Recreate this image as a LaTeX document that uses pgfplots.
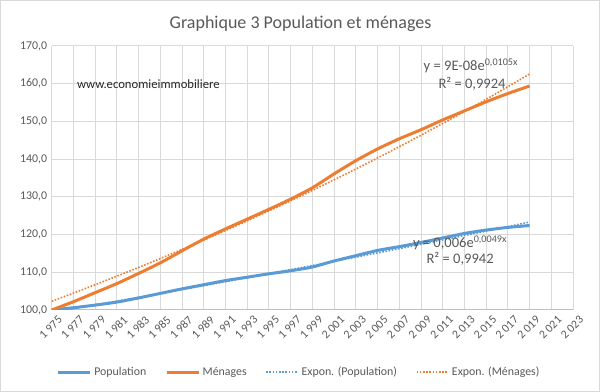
\documentclass[border=0pt]{standalone}
\usepackage{fontspec}
\setmainfont{Carlito}
\usepackage{pgfplots}
\pgfplotsset{compat=1.18}
\definecolor{pop}{HTML}{5B9BD5}
\definecolor{men}{HTML}{ED7D31}
\definecolor{txt}{HTML}{595959}
\definecolor{grd}{HTML}{D9D9D9}
\definecolor{axl}{HTML}{BFBFBF}
\begin{document}
\begin{tikzpicture}
\draw[grd, line width=0.75pt] (0.375pt,0.375pt) rectangle (449.625pt,293.625pt);
\node[txt, font=\fontsize{13.5}{16}\selectfont] at (225.4pt,276pt) {Graphique 3 Population et ménages};
\begin{axis}[
  at={(38.8pt,61.5pt)}, anchor=south west,
  scale only axis, width=391pt, height=198pt,
  xmin=1975, xmax=2023, ymin=100, ymax=170,
  xtick={1975,1977,...,2023},
  xticklabels={1 975,1 977,1 979,1 981,1 983,1 985,1 987,1 989,1 991,1 993,1 995,1 997,1 999,2 001,2 003,2 005,2 007,2 009,2 011,2 013,2 015,2 017,2 019,2 021,2 023},
  ytick={100,110,...,170},
  grid=major, grid style={grd, line width=0.75pt},
  axis line style={draw=none},
  major tick length=0pt,
  /pgf/number format/assume math mode=true,
  tick label style={txt, font=\fontsize{8.9}{10}\selectfont},
  yticklabel style={/pgf/number format/.cd, fixed, fixed zerofill, precision=1, use comma},
  xticklabel style={rotate=45, anchor=north east, inner sep=0.5pt, yshift=-5pt, xshift=1pt},
  extra y ticks={100}, extra y tick labels={},
  extra y tick style={grid style={axl, line width=0.75pt}},
  legend style={at={(0.475,-0.235)}, anchor=center, draw=none, fill=none,
    legend columns=4, font=\fontsize{8.9}{10}\selectfont, text=txt,
    /tikz/every even column/.append style={column sep=12pt}},
  legend image code/.code={\draw[#1] (0pt,0pt) -- (24pt,0pt);},
]
\addplot[pop, line width=2.25pt, smooth, tension=0.4] coordinates {
(1975,100.0)(1977,100.6)(1979,101.3)(1981,102.1)(1983,103.2)(1985,104.4)
(1987,105.6)(1989,106.7)(1991,107.8)(1993,108.7)(1995,109.6)(1997,110.4)
(1999,111.4)(2001,113.0)(2003,114.4)(2005,115.8)(2007,116.8)(2009,117.9)
(2011,119.1)(2013,120.3)(2015,121.2)(2017,121.9)(2019,122.4)};
\addlegendentry{Population}
\addplot[men, line width=2.25pt, smooth, tension=0.4] coordinates {
(1975,100.0)(1977,102.2)(1979,104.6)(1981,107.0)(1983,109.7)(1985,112.5)
(1987,115.7)(1989,118.8)(1991,121.5)(1993,124.1)(1995,126.7)(1997,129.4)
(1999,132.4)(2001,136.1)(2003,139.6)(2005,142.7)(2007,145.4)(2009,147.8)
(2011,150.4)(2013,152.8)(2015,155.2)(2017,157.4)(2019,159.4)};
\addlegendentry{Ménages}
\addplot[pop, line width=1.2pt, dash pattern=on 1.2pt off 1.2pt, smooth] coordinates {
(1975,99.40)(1979,101.37)(1983,103.37)(1987,105.42)(1991,107.51)(1995,109.63)
(1999,111.80)(2003,114.02)(2007,116.27)(2011,118.58)(2015,120.92)(2019,123.32)};
\addlegendentry{Expon. (Population)}
\addplot[men, line width=1.2pt, dash pattern=on 1.2pt off 1.2pt, smooth] coordinates {
(1975,102.30)(1979,106.70)(1983,111.29)(1987,116.08)(1991,121.07)(1995,126.28)
(1999,131.71)(2003,137.38)(2007,143.29)(2011,149.45)(2015,155.88)(2019,162.59)};
\addlegendentry{Expon. (Ménages)}
\node[anchor=west, text=black!85, font=\fontsize{9.5}{11}\selectfont] at (axis cs:1976.9,159.9) {www.economieimmobiliere};
\node[txt, font=\fontsize{10.9}{12}\selectfont] at (axis cs:2013.6,164.7) {y = 9E-08e\textsuperscript{0,0105x}};
\node[txt, font=\fontsize{10.9}{12}\selectfont] at (axis cs:2013.7,159.9) {R² = 0,9924};
\node[txt, font=\fontsize{10.9}{12}\selectfont] at (axis cs:2012.6,117.85) {y = 0,006e\textsuperscript{0,0049x}};
\node[txt, font=\fontsize{10.9}{12}\selectfont] at (axis cs:2012.6,113.7) {R² = 0,9942};
\end{axis}
\end{tikzpicture}
\end{document}
